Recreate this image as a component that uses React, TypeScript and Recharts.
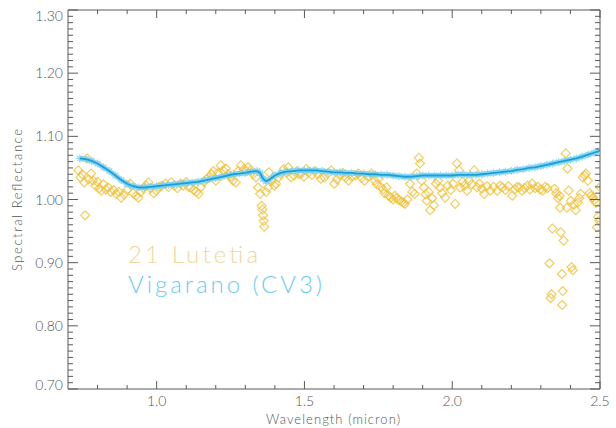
import React from 'react';
import { ScatterChart, Scatter, XAxis, YAxis } from 'recharts';

// Vigarano (CV3) laboratory spectrum
const vigaranoWave = [
  0.74, 0.76, 0.78, 0.8, 0.82, 0.84, 0.86, 0.88, 0.9, 0.92, 0.94, 0.96, 0.98, 1.0, 1.02, 1.04, 1.06, 1.08, 1.1, 1.12,
  1.14, 1.16, 1.18, 1.2, 1.22, 1.24, 1.26, 1.28, 1.3, 1.32, 1.34, 1.35, 1.36, 1.37, 1.38, 1.4, 1.42, 1.44, 1.46, 1.48,
  1.5, 1.52, 1.54, 1.56, 1.58, 1.6, 1.62, 1.64, 1.66, 1.68, 1.7, 1.72, 1.74, 1.76, 1.78, 1.8, 1.82, 1.84, 1.86, 1.88,
  1.9, 1.92, 1.94, 1.96, 1.98, 2.0, 2.02, 2.04, 2.06, 2.08, 2.1, 2.12, 2.14, 2.16, 2.18, 2.2, 2.22, 2.24, 2.26, 2.28,
  2.3, 2.32, 2.34, 2.36, 2.38, 2.4, 2.42, 2.44, 2.46, 2.48, 2.5,
];
const vigaranoRefl = [
  1.065, 1.064, 1.061, 1.057, 1.051, 1.045, 1.038, 1.031, 1.025, 1.021, 1.019, 1.019, 1.02, 1.021, 1.022, 1.023, 1.024, 1.025, 1.026, 1.027,
  1.028, 1.03, 1.032, 1.034, 1.036, 1.038, 1.04, 1.041, 1.042, 1.044, 1.045, 1.042, 1.033, 1.029, 1.031, 1.038, 1.042, 1.044, 1.045, 1.046,
  1.046, 1.046, 1.046, 1.045, 1.044, 1.043, 1.043, 1.042, 1.042, 1.041, 1.041, 1.04, 1.04, 1.039, 1.039, 1.038, 1.037, 1.036, 1.036, 1.037,
  1.038, 1.038, 1.038, 1.038, 1.038, 1.038, 1.039, 1.039, 1.039, 1.039, 1.04, 1.041, 1.042, 1.043, 1.044, 1.045, 1.047, 1.048, 1.05, 1.051,
  1.053, 1.055, 1.057, 1.059, 1.061, 1.063, 1.065, 1.068, 1.071, 1.074, 1.077,
];

// 21 Lutetia reflectance
const lutetiaWave = [
  0.735, 0.742, 0.748, 0.755, 0.758, 0.765, 0.77, 0.778, 0.785, 0.792, 0.8, 0.806, 0.812, 0.82, 0.828, 0.836, 0.845, 0.855, 0.863, 0.872,
  0.88, 0.89, 0.9, 0.911, 0.92, 0.93, 0.938, 0.946, 0.955, 0.964, 0.972, 0.98, 0.99, 0.999, 1.008, 1.018, 1.03, 1.04, 1.05, 1.06,
  1.07, 1.081, 1.09, 1.1, 1.108, 1.115, 1.125, 1.134, 1.142, 1.15, 1.16, 1.168, 1.176, 1.185, 1.192, 1.2, 1.208, 1.217, 1.225, 1.234,
  1.242, 1.25, 1.258, 1.268, 1.276, 1.285, 1.295, 1.302, 1.309, 1.318, 1.326, 1.336, 1.343, 1.35, 1.355, 1.358, 1.36, 1.362, 1.364, 1.37,
  1.377, 1.38, 1.39, 1.398, 1.404, 1.412, 1.42, 1.43, 1.438, 1.445, 1.455, 1.465, 1.475, 1.482, 1.489, 1.498, 1.506, 1.515, 1.525, 1.535,
  1.545, 1.555, 1.567, 1.578, 1.591, 1.601, 1.61, 1.62, 1.63, 1.64, 1.649, 1.66, 1.672, 1.683, 1.693, 1.703, 1.715, 1.727, 1.738, 1.745,
  1.751, 1.758, 1.766, 1.771, 1.778, 1.785, 1.792, 1.8, 1.806, 1.812, 1.82, 1.828, 1.835, 1.84, 1.848, 1.857, 1.865, 1.873, 1.88, 1.887,
  1.891, 1.897, 1.904, 1.91, 1.914, 1.92, 1.925, 1.932, 1.938, 1.945, 1.952, 1.959, 1.966, 1.976, 1.985, 1.995, 2.003, 2.01, 2.016, 2.023,
  2.027, 2.035, 2.042, 2.05, 2.058, 2.066, 2.074, 2.084, 2.092, 2.1, 2.108, 2.118, 2.129, 2.14, 2.152, 2.162, 2.17, 2.18, 2.19, 2.203,
  2.212, 2.22, 2.227, 2.236, 2.245, 2.255, 2.263, 2.271, 2.28, 2.29, 2.298, 2.306, 2.315, 2.322, 2.329, 2.333, 2.336, 2.339, 2.346, 2.352,
  2.358, 2.363, 2.365, 2.367, 2.371, 2.372, 2.374, 2.377, 2.384, 2.388, 2.39, 2.394, 2.401, 2.404, 2.408, 2.412, 2.418, 2.425, 2.43, 2.435,
  2.442, 2.448, 2.452, 2.459, 2.465, 2.47, 2.476, 2.48, 2.486, 2.49, 2.493, 2.498, 2.5,
];
const lutetiaRefl = [
  1.046, 1.035, 1.04, 1.027, 0.975, 1.065, 1.032, 1.041, 1.03, 1.022, 1.028, 1.018, 1.014, 1.024, 1.016, 1.019, 1.012, 1.015, 1.009, 1.012,
  1.003, 1.008, 1.015, 1.025, 1.01, 1.006, 1.003, 1.012, 1.018, 1.022, 1.027, 1.018, 1.01, 1.014, 1.02, 1.022, 1.025, 1.02, 1.027, 1.022,
  1.018, 1.025, 1.022, 1.028, 1.02, 1.019, 1.015, 1.012, 1.009, 1.02, 1.028, 1.032, 1.035, 1.04, 1.045, 1.03, 1.042, 1.054, 1.046, 1.049,
  1.04, 1.036, 1.03, 1.027, 1.045, 1.054, 1.048, 1.045, 1.051, 1.046, 1.04, 1.035, 1.019, 1.009, 0.99, 0.984, 0.975, 0.966, 0.957, 1.012,
  1.019, 1.043, 1.03, 1.022, 1.025, 1.035, 1.04, 1.048, 1.043, 1.051, 1.035, 1.038, 1.045, 1.04, 1.041, 1.036, 1.048, 1.043, 1.039, 1.045,
  1.04, 1.033, 1.035, 1.041, 1.046, 1.025, 1.032, 1.038, 1.042, 1.035, 1.03, 1.036, 1.038, 1.041, 1.034, 1.03, 1.036, 1.041, 1.03, 1.024,
  1.033, 1.02, 1.016, 1.01, 1.019, 1.006, 1.003, 1.0, 1.006, 1.002, 0.999, 0.997, 0.995, 0.993, 1.0, 1.025, 1.012, 1.009, 1.041, 1.066,
  1.057, 1.03, 1.019, 1.008, 0.998, 1.012, 0.983, 1.002, 0.991, 1.025, 1.03, 1.019, 1.01, 1.003, 1.022, 1.015, 1.025, 0.993, 1.057, 1.046,
  1.019, 1.028, 1.022, 1.014, 1.03, 1.024, 1.046, 1.019, 1.025, 1.017, 1.009, 1.021, 1.014, 1.02, 1.014, 1.022, 1.019, 1.015, 1.021, 1.006,
  1.016, 1.02, 1.019, 1.014, 1.018, 1.022, 1.016, 1.025, 1.018, 1.02, 1.016, 1.014, 1.02, 1.018, 0.899, 0.844, 0.85, 0.954, 1.017, 1.01,
  1.002, 1.006, 0.987, 0.948, 0.882, 0.833, 0.855, 0.935, 1.073, 0.987, 1.049, 1.014, 0.998, 0.893, 0.888, 0.992, 0.983, 0.995, 1.002, 1.009,
  1.035, 1.038, 1.041, 1.03, 1.01, 1.006, 1.003, 0.999, 0.995, 0.956, 0.972, 0.967, 1.02,
];

const xTicks = [0.8, 0.9, 1.0, 1.1, 1.2, 1.3, 1.4, 1.5, 1.6, 1.7, 1.8, 1.9, 2.0, 2.1, 2.2, 2.3, 2.4, 2.5];
const xMajorLabels = ['1.0', '1.5', '2.0', '2.5'];
const yMajorLabels = ['0.70', '0.80', '0.90', '1.00', '1.10', '1.20', '1.30'];
const yTicks: number[] = [];
for (let i = 0; i <= 60; i++) yTicks.push(Math.round((0.7 + i * 0.01) * 100) / 100);

const lutetia = lutetiaWave.map((x, i) => ({ x, y: lutetiaRefl[i] }));
const vigarano = vigaranoWave.map((x, i) => ({ x, y: vigaranoRefl[i] }));

const AXIS = '#5a5a5a';
const FONT = "Lato, 'DejaVu Sans', sans-serif";

const isXMajor = (v: number) => v > 0.75 && Math.abs(v * 2 - Math.round(v * 2)) < 1e-6;
const isYMajor = (v: number) => Math.round(v * 100) % 10 === 0;

const BottomTick = (props: any) => {
  const { x, y, payload } = props;
  const v = payload.value;
  const major = isXMajor(v);
  const label = major ? xMajorLabels.find((s) => Math.abs(parseFloat(s) - v) < 1e-6) : undefined;
  return (
    <g>
      <line x1={x} x2={x} y1={y} y2={y - (major ? 8 : 4)} stroke={AXIS} strokeWidth={1} />
      {label && (
        <text x={x} y={y + 17} textAnchor="middle" fill="#555" fontSize={14} fontFamily={FONT} fontWeight={300}>
          {label}
        </text>
      )}
    </g>
  );
};

const TopTick = (props: any) => {
  const { x, y, payload } = props;
  const major = isXMajor(payload.value);
  return <line x1={x} x2={x} y1={y} y2={y + (major ? 8 : 4)} stroke={AXIS} strokeWidth={1} />;
};

const LeftTick = (props: any) => {
  const { x, y, payload } = props;
  const v = payload.value;
  const major = isYMajor(v);
  const label = major ? yMajorLabels.find((s) => Math.abs(parseFloat(s) - v) < 1e-6) : undefined;
  const dy = v > 1.29 ? 6 : v < 0.71 ? -4 : 0;
  return (
    <g>
      <line x1={x} x2={x + (major ? 10 : 5)} y1={y} y2={y} stroke={AXIS} strokeWidth={1} />
      {label && (
        <text x={x - 5} y={y + dy + 5} textAnchor="end" fill="#555" fontSize={14} fontFamily={FONT} fontWeight={300}>
          {label}
        </text>
      )}
    </g>
  );
};

const RightTick = (props: any) => {
  const { x, y, payload } = props;
  const major = isYMajor(payload.value);
  return <line x1={x} x2={x - (major ? 10 : 5)} y1={y} y2={y} stroke={AXIS} strokeWidth={1} />;
};

const Diamond = (props: any) => {
  const { cx, cy } = props;
  if (cx == null || cy == null) return null;
  const r = 4.5;
  return (
    <path
      d={`M${cx},${cy - r}L${cx + r},${cy}L${cx},${cy + r}L${cx - r},${cy}Z`}
      fill="none"
      stroke="#f0c03a"
      strokeWidth={1.2}
      strokeOpacity={0.8}
    />
  );
};

const Plus = (props: any) => {
  const { cx, cy } = props;
  if (cx == null || cy == null) return null;
  const r = 4;
  return (
    <path
      d={`M${cx - r},${cy}H${cx + r}M${cx},${cy - r}V${cy + r}M${cx - 2.8},${cy - 2.8}L${cx + 2.8},${cy + 2.8}M${cx - 2.8},${cy + 2.8}L${cx + 2.8},${cy - 2.8}`}
      stroke="#7fd4f4"
      strokeWidth={1.3}
      strokeOpacity={0.8}
    />
  );
};

const NoDot = () => null;

export default function App() {
  return (
    <div style={{ position: 'absolute', left: 0, top: 0, width: 616, height: 428, background: '#fff' }}>
      <ScatterChart width={616} height={428} margin={{ top: 0, right: 0, bottom: 0, left: 0 }}>
        <XAxis
          xAxisId="b"
          type="number"
          dataKey="x"
          domain={[0.7, 2.5]}
          ticks={xTicks}
          interval={0}
          height={39}
          tickSize={0}
          tickMargin={0}
          tick={<BottomTick />}
          axisLine={{ stroke: AXIS }}
          allowDataOverflow
        />
        <XAxis
          xAxisId="t"
          orientation="top"
          type="number"
          dataKey="x"
          domain={[0.7, 2.5]}
          ticks={xTicks}
          interval={0}
          height={10}
          tickSize={0}
          tickMargin={0}
          tick={<TopTick />}
          axisLine={{ stroke: AXIS }}
          allowDataOverflow
        />
        <YAxis
          yAxisId="l"
          type="number"
          dataKey="y"
          domain={[0.7, 1.3]}
          ticks={yTicks}
          interval={0}
          width={68}
          tickSize={0}
          tickMargin={0}
          tick={<LeftTick />}
          axisLine={{ stroke: AXIS }}
          allowDataOverflow
        />
        <YAxis
          yAxisId="r"
          orientation="right"
          type="number"
          dataKey="y"
          domain={[0.7, 1.3]}
          ticks={yTicks}
          interval={0}
          width={16}
          tickSize={0}
          tickMargin={0}
          tick={<RightTick />}
          axisLine={{ stroke: AXIS }}
          allowDataOverflow
        />
        <Scatter
          name="21 Lutetia"
          data={lutetia}
          xAxisId="b"
          yAxisId="l"
          shape={<Diamond />}
          isAnimationActive={false}
        />
        <Scatter
          name="Vigarano (CV3)"
          data={vigarano}
          xAxisId="b"
          yAxisId="l"
          shape={<Plus />}
          line={{ stroke: '#5cc6ef', strokeWidth: 5, strokeOpacity: 0.7 }}
          isAnimationActive={false}
        />
        <Scatter
          data={vigarano}
          xAxisId="b"
          yAxisId="l"
          shape={<NoDot />}
          line={{ stroke: '#1a9fd9', strokeWidth: 1.8 }}
          isAnimationActive={false}
        />
        <Scatter data={vigarano} xAxisId="t" yAxisId="r" shape={<NoDot />} isAnimationActive={false} />
      </ScatterChart>
      <svg
        width={616}
        height={428}
        style={{ position: 'absolute', left: 0, top: 0, pointerEvents: 'none' }}
      >
        <text x={128} y={263} fill="#f0d79a" fontSize={24} fontFamily={FONT} fontWeight={300} textLength={130} lengthAdjust="spacing">
          21 Lutetia
        </text>
        <text x={128} y={293} fill="#6ccbf1" fontSize={24} fontFamily={FONT} fontWeight={300} textLength={194} lengthAdjust="spacing">
          Vigarano (CV3)
        </text>
        <text
          x={333}
          y={424}
          textAnchor="middle"
          fill="#555"
          fontSize={13}
          fontFamily={FONT}
          fontWeight={300}
          textLength={134}
          lengthAdjust="spacing"
        >
          Wavelength (micron)
        </text>
        <text
          x={22}
          y={200}
          textAnchor="middle"
          transform="rotate(-90 22 200)"
          fill="#555"
          fontSize={13}
          fontFamily={FONT}
          fontWeight={300}
          textLength={142}
          lengthAdjust="spacing"
        >
          Spectral Reflectance
        </text>
      </svg>
    </div>
  );
}
